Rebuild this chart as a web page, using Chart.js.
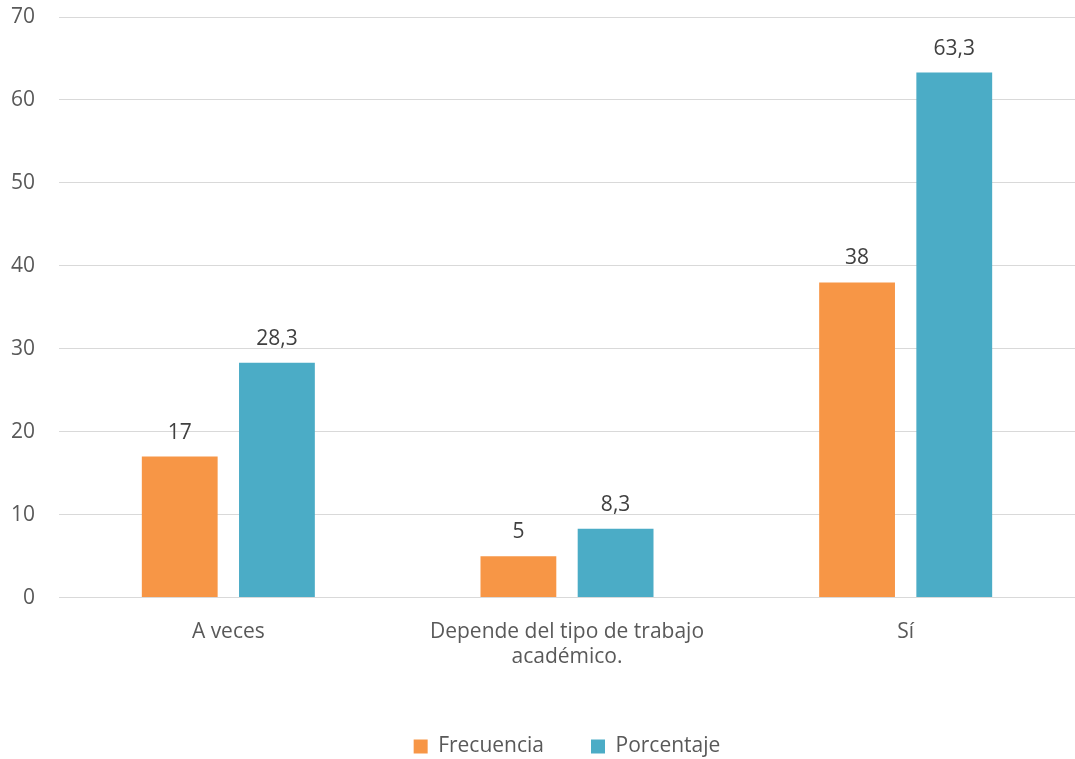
<!DOCTYPE html>
<html>
<head>
<meta charset="utf-8">
<script src="https://cdn.jsdelivr.net/npm/chart.js@4/dist/chart.umd.min.js"></script>
<style>
  html, body { margin: 0; padding: 0; background: #fff; }
  #grafico { display: block; }
</style>
</head>
<body>
<canvas id="grafico" width="1075" height="759"></canvas>
<script>
const CATEGORIAS = ["A veces", ["Depende del tipo de trabajo", "académico."], "Sí"];
const FRECUENCIA = [17, 5, 38];
const PORCENTAJE = [28.3, 8.3, 63.3];
const TICKS_Y = [0, 10, 20, 30, 40, 50, 60, 70];

const COLORES = {
  naranja: "#F79646",
  azul: "#4BACC6",
  texto: "#595959",
  etiqueta: "#404040",
  rejilla: "#D9D9D9",
};

const FUENTE = "'Open Sans', 'DejaVu Sans', sans-serif";
const TAM = 21;

// dibuja el valor encima de cada barra
const etiquetasValores = {
  id: "etiquetasValores",
  afterDatasetsDraw(chart) {
    const ctx = chart.ctx;
    ctx.save();
    ctx.font = TAM + "px " + FUENTE;
    ctx.fillStyle = COLORES.etiqueta;
    ctx.textAlign = "center";
    ctx.textBaseline = "middle";
    chart.data.datasets.forEach((ds, i) => {
      chart.getDatasetMeta(i).data.forEach((barra, j) => {
        const txt = String(ds.data[j]).replace(".", ",");
        ctx.fillText(txt, barra.x, barra.y - 24);
      });
    });
    ctx.restore();
  },
};

const ctx = document.getElementById("grafico").getContext("2d");

const grafico = new Chart(ctx, {
  type: "bar",
  data: {
    labels: CATEGORIAS,
    datasets: [
      {
        label: "Frecuencia",
        data: FRECUENCIA,
        backgroundColor: COLORES.naranja,
        categoryPercentage: 0.574,
        barPercentage: 0.78,
      },
      {
        label: "Porcentaje",
        data: PORCENTAJE,
        backgroundColor: COLORES.azul,
        categoryPercentage: 0.574,
        barPercentage: 0.78,
      },
    ],
  },
  options: {
    responsive: false,
    animation: false,
    layout: {
      padding: { left: 0, right: 0, top: 0, bottom: -8 },
    },
    plugins: {
      legend: {
        position: "bottom",
        fullSize: false,
        labels: {
          font: { family: FUENTE, size: TAM },
          color: COLORES.texto,
          boxWidth: 14,
          boxHeight: 14,
          padding: 47,
        },
      },
      tooltip: { enabled: false },
    },
    scales: {
      x: {
        grid: { display: false },
        border: { color: COLORES.rejilla, width: 1 },
        ticks: {
          font: { family: FUENTE, size: TAM },
          color: COLORES.texto,
          padding: 14,
          maxRotation: 0,
        },
        afterFit(axis) {
          axis.height = axis.height + 5;
        },
      },
      y: {
        min: 0,
        max: 70,
        afterBuildTicks(axis) {
          axis.ticks = TICKS_Y.map((v) => ({ value: v }));
        },
        afterFit(axis) {
          axis.width = 59;
          axis.paddingTop = 17;
          axis.paddingBottom = 0;
        },
        grid: { color: COLORES.rejilla, lineWidth: 1, drawTicks: false },
        border: { display: false },
        ticks: {
          font: { family: FUENTE, size: TAM },
          color: COLORES.texto,
          padding: 24,
        },
      },
    },
  },
  plugins: [etiquetasValores],
});
</script>
</body>
</html>
